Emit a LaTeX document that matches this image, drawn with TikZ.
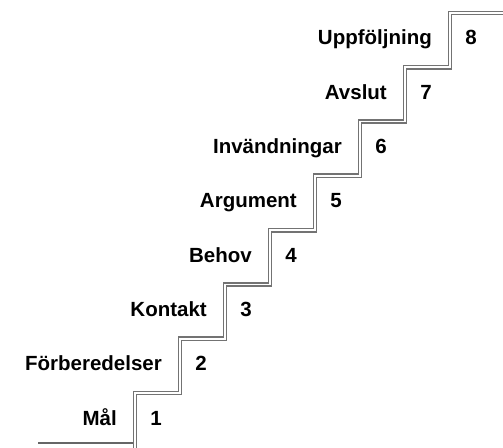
\documentclass[tikz,border=0pt]{standalone}
\usepackage{fontspec}
\setmainfont{Liberation Sans}
\begin{document}
\begin{tikzpicture}[x=1pt,y=-1pt,
  lab/.style={font=\fontsize{20.5}{23}\selectfont\bfseries, inner sep=0pt},
  stair/.style={draw=gray!90!black, line width=1.6pt, double=white, double distance=1.6pt, line join=miter},
  ground/.style={draw=gray!80!black, line width=1.3pt}]
\useasboundingbox (0,0) rectangle (503,447);
% ground line
\draw[ground] (38,443) -- (133,443);
% staircase
\draw[stair] (135,449)
  \foreach \k in {1,...,7} {
    -- ({135+45*(\k-1)},{393-54.3*(\k-1)}) -- ({135+45*\k},{393-54.3*(\k-1)})
  }
  -- (450,{393-54.3*7}) -- (506,{393-54.3*7});
% labels
\foreach \k/\t in {1/Mål,2/Förberedelser,3/Kontakt,4/Behov,5/Argument,6/Invändningar,7/Avslut,8/Uppföljning} {
  \node[lab, anchor=base east] (l\k) at ({135+45*(\k-1)-18},{393-54.3*(\k-1)+32}) {\t};
  \node[lab, anchor=base] (n\k) at ({135+45*(\k-1)+21},{393-54.3*(\k-1)+32}) {\k};
}
\end{tikzpicture}
\end{document}
